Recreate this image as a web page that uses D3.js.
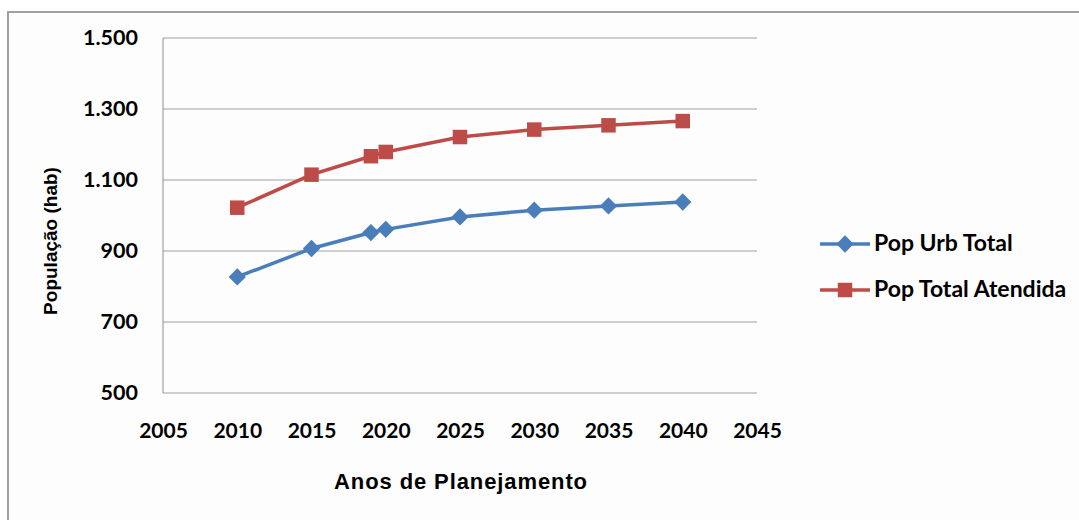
<!DOCTYPE html>
<html>
<head>
<meta charset="utf-8">
<script src="https://cdn.jsdelivr.net/npm/d3@7"></script>
<style>
  body { margin: 0; background: #fff; }
  svg { display: block; }
</style>
</head>
<body>
<svg id="chart" width="1079" height="520"></svg>
<script>
// data
var years = [2010, 2015, 2019, 2020, 2025, 2030, 2035, 2040];
var popUrbTotal = [827, 907, 952, 961, 996, 1015, 1027, 1038];
var popTotalAtendida = [1022, 1115, 1167, 1179, 1221, 1242, 1254, 1266];
var seriesNames = ["Pop Urb Total", "Pop Total Atendida"];
var xTicks = [2005, 2010, 2015, 2020, 2025, 2030, 2035, 2040, 2045];
var yTicks = [500, 700, 900, 1100, 1300, 1500];

var svg = d3.select("#chart");
var margin = {top: 38, left: 163, right: 322, bottom: 127};
var width = 1079 - margin.left - margin.right,
    height = 520 - margin.top - margin.bottom;

// chart frame
svg.append("rect")
    .attr("x", 8).attr("y", 12)
    .attr("width", 1090).attr("height", 530)
    .attr("fill", "#fdfdfd")
    .attr("stroke", "#a0a0a0")
    .attr("stroke-width", 2);

var x = d3.scaleLinear().domain([2005, 2045]).range([0, width]);
var y = d3.scaleLinear().domain([500, 1500]).range([height, 0]);

var ptBR = d3.formatLocale({decimal: ",", thousands: ".", grouping: [3], currency: ["R$", ""]});
var fmt = ptBR.format(",d");

var g = svg.append("g")
    .attr("transform", "translate(" + margin.left + "," + margin.top + ")");

// horizontal gridlines
g.append("g")
    .selectAll("line")
    .data(yTicks)
    .enter().append("line")
    .attr("x1", 0).attr("x2", width)
    .attr("y1", function(d) { return y(d); })
    .attr("y2", function(d) { return y(d); })
    .attr("stroke", "#a0a0a0")
    .attr("stroke-width", 1.2);

// left axis line
g.append("line")
    .attr("x1", 0).attr("x2", 0)
    .attr("y1", 0).attr("y2", height)
    .attr("stroke", "#a0a0a0")
    .attr("stroke-width", 1.2);

var tickFont = "Lato, 'Liberation Sans', sans-serif";

// Y axis labels
var yAxis = g.append("g")
    .call(d3.axisLeft(y).tickValues(yTicks).tickFormat(fmt).tickSize(0).tickPadding(25));
yAxis.select(".domain").remove();
yAxis.selectAll("text")
    .attr("font-family", tickFont)
    .attr("font-weight", "bold")
    .attr("font-size", "21.5px")
    .attr("fill", "#000");

// X axis labels
var xAxis = g.append("g")
    .attr("transform", "translate(0," + height + ")")
    .call(d3.axisBottom(x).tickValues(xTicks).tickFormat(d3.format("d")).tickSize(0).tickPadding(30));
xAxis.select(".domain").remove();
xAxis.selectAll("text")
    .attr("font-family", tickFont)
    .attr("font-weight", "bold")
    .attr("font-size", "21px")
    .attr("fill", "#000");

// axis titles
svg.append("text")
    .attr("x", 461)
    .attr("y", 489)
    .attr("text-anchor", "middle")
    .attr("font-family", "'Liberation Sans', Arial, sans-serif")
    .attr("font-weight", "bold")
    .attr("font-size", "22px")
    .attr("letter-spacing", "0.9px")
    .text("Anos de Planejamento");

svg.append("text")
    .attr("transform", "translate(57,241) rotate(-90)")
    .attr("text-anchor", "middle")
    .attr("font-family", "'Liberation Sans', Arial, sans-serif")
    .attr("font-weight", "bold")
    .attr("font-size", "19px")
    .text("População (hab)");

var series = [
  {name: seriesNames[0], values: popUrbTotal, color: "#4a7ebb", rotate: 45, size: 150},
  {name: seriesNames[1], values: popTotalAtendida, color: "#be4b48", rotate: 0, size: 210}
];

var line = d3.line()
    .x(function(d) { return x(d[0]); })
    .y(function(d) { return y(d[1]); });

series.forEach(function(s) {
  var pts = years.map(function(yr, i) { return [yr, s.values[i]]; });
  g.append("path")
      .datum(pts)
      .attr("fill", "none")
      .attr("stroke", s.color)
      .attr("stroke-width", 3.5)
      .attr("d", line);
  g.selectAll(null)
      .data(pts)
      .enter().append("path")
      .attr("transform", function(d) {
        return "translate(" + x(d[0]) + "," + y(d[1]) + ") rotate(" + s.rotate + ")";
      })
      .attr("d", d3.symbol().type(d3.symbolSquare).size(s.size))
      .attr("fill", s.color);
});

// legend
var legend = svg.append("g").attr("transform", "translate(820,244)");
series.forEach(function(s, i) {
  var row = legend.append("g").attr("transform", "translate(0," + (i * 46) + ")");
  row.append("line")
      .attr("x1", 0).attr("x2", 50)
      .attr("stroke", s.color)
      .attr("stroke-width", 3.5);
  row.append("path")
      .attr("transform", "translate(25,0) rotate(" + s.rotate + ")")
      .attr("d", d3.symbol().type(d3.symbolSquare).size(s.size))
      .attr("fill", s.color);
  row.append("text")
      .attr("x", 54)
      .attr("y", 7)
      .attr("font-family", tickFont)
      .attr("font-weight", "bold")
      .attr("font-size", "23px")
      .text(s.name);
});
</script>
</body>
</html>
